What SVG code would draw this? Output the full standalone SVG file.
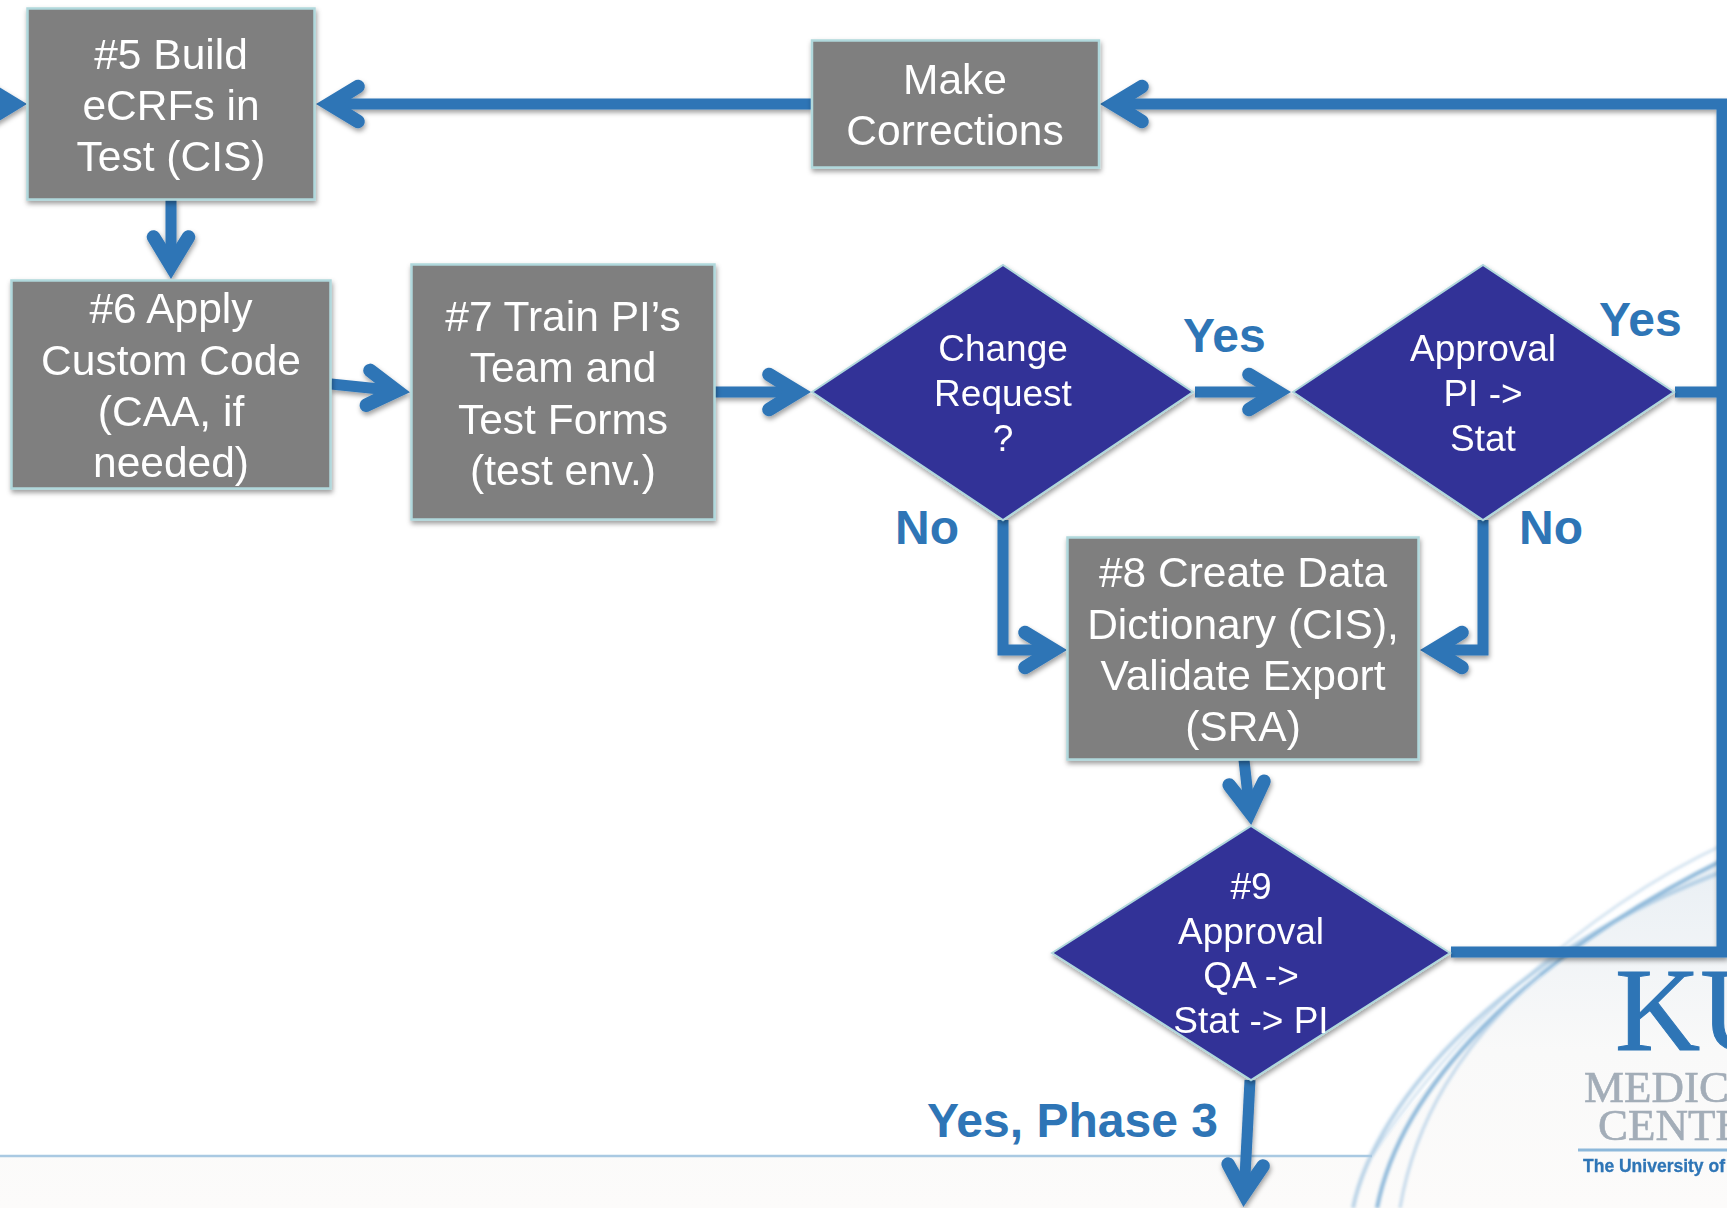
<svg xmlns="http://www.w3.org/2000/svg" width="1727" height="1208" viewBox="0 0 1727 1208">
<style>
.box{fill:#7f7f7f;stroke:#b0d8dc;stroke-width:2.5}
.dia{fill:#333097;stroke:#b0d8dc;stroke-width:2}
.t{font-family:"Liberation Sans",Arial,sans-serif;font-size:42.500px;fill:#fff;text-anchor:middle}
.d{font-size:37px}
.lab{font-family:"Liberation Sans",Arial,sans-serif;font-size:48px;font-weight:bold;fill:#2e75b6}
.c{fill:none;stroke:#2e75b6;stroke-width:11}
.sw{fill:none;stroke:#a9c9e2}
</style>
<defs>
<marker id="arr" markerUnits="userSpaceOnUse" markerWidth="70" markerHeight="60" refX="-11" refY="0" viewBox="-60 -30 70 60" orient="auto" overflow="visible">
<path d="M0,0 L-38,-23 A6.500,6.500 0 0 0 -46,-12 L-27,0 L-46,12 A6.500,6.500 0 0 0 -38,23 Z" fill="#2e75b6"/>
</marker>
<filter id="sh" x="-10%" y="-10%" width="120%" height="125%"><feDropShadow dx="1" dy="3" stdDeviation="2.500" flood-color="#000" flood-opacity=".38"/></filter>
<filter id="bl" x="-5%" y="-5%" width="110%" height="110%"><feGaussianBlur stdDeviation="1.600"/></filter>
<filter id="bs" x="-5%" y="-5%" width="110%" height="110%"><feGaussianBlur stdDeviation=".6"/></filter>
<linearGradient id="bg" x1="0" y1="0" x2="0" y2="1"><stop offset="0" stop-color="#e9eff4"/><stop offset=".55" stop-color="#f9f9f9"/><stop offset="1" stop-color="#fcfbfa"/></linearGradient>
</defs>
<rect width="1727" height="1208" fill="#fff"/>
<g id="background">
<path d="M0,1157 H1372 C1440,1060 1560,940 1727,858 V1208 H0 Z" fill="url(#bg)"/>
<path d="M0,1156 H1372" class="sw" stroke-width="2.500"/>
<g filter="url(#bl)">
<path d="M1372,1156 C1440,1050 1570,915 1727,843" class="sw" stroke-width="2.500" opacity=".55"/>
<path d="M1353,1208 C1375,1100 1510,950 1727,870" class="sw" stroke-width="4" opacity=".8"/>
<path d="M1377,1208 C1400,1090 1520,960 1727,858" class="sw" style="stroke:#8fb9da" stroke-width="4"/>
<path d="M1400,1208 C1415,1120 1460,1045 1540,975" class="sw" stroke-width="3" opacity=".7"/>
</g>
</g>
<g id="logo" filter="url(#bs)">
<text x="1615" y="1050" font-family="Liberation Serif,serif" font-size="118" fill="#2e75b6" stroke="#2e75b6" stroke-width="1">KU</text>
<text x="1584" y="1102" font-family="Liberation Serif,serif" font-size="45" fill="#a3adb8" stroke="#a3adb8" stroke-width=".6">MEDIC</text>
<text x="1598" y="1140" font-family="Liberation Serif,serif" font-size="45" fill="#a3adb8" stroke="#a3adb8" stroke-width=".6">CENTE</text>
<rect x="1578" y="1148.500" width="149" height="3" fill="#8db8da"/>
<text x="1583" y="1172" font-family="Liberation Sans,sans-serif" font-weight="bold" font-size="17.500" fill="#2e75b6" stroke="#2e75b6" stroke-width=".3">The University of</text>
</g>
<g id="connectors" filter="url(#sh)">
<path class="c" d="M-60,104 H16" marker-end="url(#arr)"/>
<path class="c" d="M811,104 H327" marker-end="url(#arr)"/>
<path class="c" d="M1451,952 H1722 V104 H1111" marker-end="url(#arr)"/>
<path class="c" d="M1675,392 H1722"/>
<path class="c" d="M171,200 V268" marker-end="url(#arr)"/>
<path class="c" d="M331,384 L399,391" marker-end="url(#arr)"/>
<path class="c" d="M715,392 H800" marker-end="url(#arr)"/>
<path class="c" d="M1195,392 H1280" marker-end="url(#arr)"/>
<path class="c" d="M1003,520 V650 H1056" marker-end="url(#arr)"/>
<path class="c" d="M1483,520 V650 H1431" marker-end="url(#arr)"/>
<path class="c" d="M1244,760 L1250,814" marker-end="url(#arr)"/>
<path class="c" d="M1250,1080 L1244,1196" marker-end="url(#arr)"/>
</g>
<g id="n5" filter="url(#sh)"><rect class="box" x="27.500" y="8.500" width="287" height="191"/>
<text class="t" x="171" y="69">#5 Build</text><text class="t" x="171" y="120">eCRFs in</text><text class="t" x="171" y="171">Test (CIS)</text></g>
<g id="mc" filter="url(#sh)"><rect class="box" x="812" y="40.500" width="287" height="127"/>
<text class="t" x="955" y="94">Make</text><text class="t" x="955" y="145">Corrections</text></g>
<g id="n6" filter="url(#sh)"><rect class="box" x="11.500" y="280.500" width="319" height="208"/>
<text class="t" x="171" y="323">#6 Apply</text><text class="t" x="171" y="375">Custom Code</text><text class="t" x="171" y="426">(CAA, if</text><text class="t" x="171" y="477">needed)</text></g>
<g id="n7" filter="url(#sh)"><rect class="box" x="411.500" y="264.500" width="303" height="255"/>
<text class="t" x="563" y="331">#7 Train PI’s</text><text class="t" x="563" y="382">Team and</text><text class="t" x="563" y="434">Test Forms</text><text class="t" x="563" y="485">(test env.)</text></g>
<g id="change" filter="url(#sh)"><polygon class="dia" points="812,392 1003,265 1193,392 1003,520"/>
<text class="t d" x="1003" y="361">Change</text><text class="t d" x="1003" y="406">Request</text><text class="t d" x="1003" y="451">?</text></g>
<g id="approval" filter="url(#sh)"><polygon class="dia" points="1293,392 1483,265 1674,392 1483,520"/>
<text class="t d" x="1483" y="361">Approval</text><text class="t d" x="1483" y="406">PI -&gt;</text><text class="t d" x="1483" y="451">Stat</text></g>
<g id="n8" filter="url(#sh)"><rect class="box" x="1067.500" y="537.500" width="351" height="222"/>
<text class="t" x="1243" y="587">#8 Create Data</text><text class="t" x="1243" y="639">Dictionary (CIS),</text><text class="t" x="1243" y="690">Validate Export</text><text class="t" x="1243" y="741">(SRA)</text></g>
<g id="n9" filter="url(#sh)"><polygon class="dia" points="1052,953 1251,826 1450,953 1251,1080"/>
<text class="t d" x="1251" y="899">#9</text><text class="t d" x="1251" y="944">Approval</text><text class="t d" x="1251" y="988">QA -&gt;</text><text class="t d" x="1251" y="1033">Stat -&gt; PI</text></g>
<g id="labels">
<text class="lab" x="1183" y="352">Yes</text>
<text class="lab" x="1599" y="336">Yes</text>
<text class="lab" x="895" y="544">No</text>
<text class="lab" x="1519" y="544">No</text>
<text class="lab" x="927" y="1137">Yes, Phase 3</text>
</g>
</svg>
